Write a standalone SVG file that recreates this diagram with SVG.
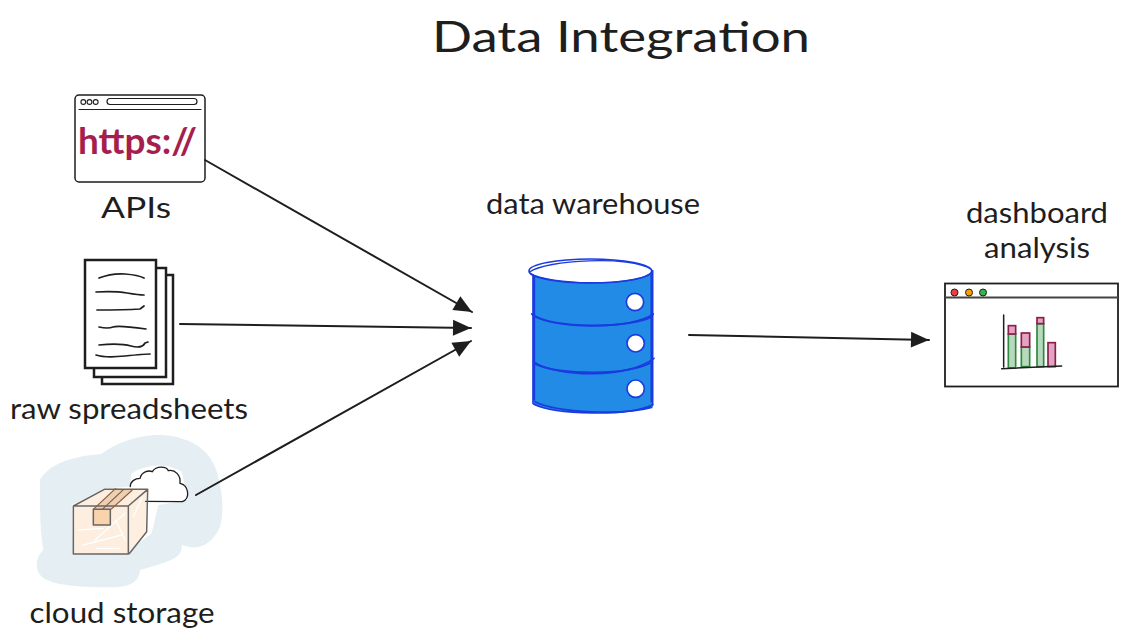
<svg xmlns="http://www.w3.org/2000/svg" width="1128" height="643" viewBox="0 0 1128 643">
<style>
text{font-family:"Lato","Open Sans",sans-serif;fill:#1e1e1e}
.lbl{font-size:28px}
.conn{fill:none;stroke:#1e1e1e;stroke-width:2;stroke-linecap:round}
.k{fill:none;stroke:#1e1e1e;stroke-linecap:round;stroke-linejoin:round}
</style>
<defs>
<marker id="arrow" markerUnits="userSpaceOnUse" markerWidth="22" markerHeight="20" refX="19" refY="10" orient="auto">
<path d="M1 2L19 10L1 18Z" fill="#1e1e1e"/>
</marker>
</defs>
<rect width="1128" height="643" fill="#fff"/>
<text x="621" y="52" font-size="42" text-anchor="middle" textLength="378" lengthAdjust="spacingAndGlyphs">Data Integration</text>
<g id="apis">
<rect x="75" y="95" width="130" height="87" rx="4" fill="#fff" stroke="#1e1e1e" stroke-width="1.5"/>
<path class="k" stroke-width="1.200" d="M79 109.500H201"/>
<circle class="k" cx="83.300" cy="102" r="2.400" stroke-width="1.100"/>
<circle class="k" cx="89.500" cy="102" r="2.400" stroke-width="1.100"/>
<circle class="k" cx="95.700" cy="102" r="2.400" stroke-width="1.100"/>
<rect class="k" x="107" y="98.500" width="90" height="6" rx="3" stroke-width="1.200"/>
<text x="78" y="154" font-size="36" font-weight="700" textLength="119" lengthAdjust="spacingAndGlyphs" style="fill:#a61e4d">https://</text>
<text class="lbl" x="136" y="218" text-anchor="middle" textLength="70" lengthAdjust="spacingAndGlyphs">APIs</text>
</g>
<g id="raw-spreadsheets">
<rect x="102" y="275" width="71" height="109" fill="#fff" stroke="#1e1e1e" stroke-width="2.500"/>
<rect x="94" y="268" width="72" height="109" fill="#fff" stroke="#1e1e1e" stroke-width="2.500"/>
<rect x="85" y="260" width="71" height="108" fill="#fff" stroke="#1e1e1e" stroke-width="2.500"/>
<g class="k" stroke-width="1.700">
<path d="M99 278Q112 273 125 274T144 278"/>
<path d="M96 292Q115 291 127 293T144 295"/>
<path d="M97 310Q125 310 140 309L144 306"/>
<path d="M99 327Q108 329 113 327T146 329"/>
<path d="M99 345Q120 343 131 346T145 343L148 342"/>
<path d="M96 355Q105 358 125 356T150 354"/>
</g>
<text class="lbl" x="129" y="419" text-anchor="middle" textLength="238" lengthAdjust="spacingAndGlyphs">raw spreadsheets</text>
</g>
<g id="cloud-storage">
<g transform="translate(25 430) scale(.33333)">
<path fill="#e5eff3" d="M45 150C70 105 130 80 230 72C270 40 340 15 400 15C470 15 540 45 565 100C590 150 600 240 585 290C565 340 520 360 490 350L470 345C475 385 430 395 345 420C345 450 320 470 270 472C200 472 90 472 50 440C25 415 35 380 55 360C45 300 45 240 45 200Z"/>
<path fill="#fff" d="M320 130C360 105 420 95 470 125L490 210L400 225L380 310L300 370L145 375L140 225L240 175L315 170Z"/>
<path fill="#fdeedf" d="M145 230L310 228L312 370L145 372ZM145 228L240 178L365 178L310 228ZM310 228L365 178L362 305L312 370Z"/>
<g fill="none" stroke="#fff" stroke-width="4" stroke-linecap="round">
<path d="M175 345L290 315M210 330L300 250M160 300L235 295M272 270L300 330M215 355L285 355M325 260L350 205"/>
</g>
<path fill="#f9d3ac" d="M205 238H256V285H205Z"/>
<path fill="#ecd0b4" d="M205 238L272 175L322 180L258 238Z"/>
<path fill="#fff" d="M320 172C315 155 330 145 345 145C350 125 370 120 382 125C395 105 425 110 430 122C450 118 468 135 465 160C490 165 498 205 472 215L362 215L368 178Z" stroke="none"/>
<path fill="none" stroke="#1e1e1e" stroke-width="4" stroke-linecap="round" d="M316 170C315 155 330 145 345 145C350 125 370 120 382 125C395 105 425 110 430 122C450 118 468 135 465 160C490 165 498 205 472 215L362 214"/>
<g fill="none" stroke="#666" stroke-width="4.500" stroke-linejoin="round">
<path d="M145 228H310V372H145ZM145 228L238 178H368L310 228M368 178L365 305L312 372"/>
<path d="M205 238H256V285H205Z"/>
<path stroke="#8a5a3c" stroke-width="3.500" d="M205 238L272 175M258 238L322 180M232 238L296 178"/>
</g>
</g>
<text class="lbl" x="122" y="623" text-anchor="middle" textLength="185" lengthAdjust="spacingAndGlyphs">cloud storage</text>
</g>
<g id="data-warehouse">
<text class="lbl" x="593" y="214" text-anchor="middle" textLength="214" lengthAdjust="spacingAndGlyphs">data warehouse</text>
<g transform="translate(515 250) scale(.33333)">
<path fill="#228be6" d="M54 70H414V470C340 495 130 495 56 465Z"/>
<g fill="none" stroke="#1a3be0" stroke-width="5" stroke-linecap="round">
<path d="M54 70V460M58 80V450M413 62V465M409 70V455"/>
<path d="M50 192C110 240 350 240 415 192"/>
<path d="M54 196C120 235 340 236 412 200"/>
<path d="M55 335C130 385 340 385 417 325"/>
<path d="M60 342C130 375 340 378 412 336"/>
<path d="M56 462C120 495 340 500 413 464"/>
<path d="M60 455C130 490 330 495 410 472"/>
</g>
<ellipse cx="226" cy="63" rx="184" ry="36" fill="#fff" stroke="#1a3be0" stroke-width="5"/>
<path fill="none" stroke="#1a3be0" stroke-width="4" d="M44 66C90 30 350 15 408 58M46 70C100 105 350 110 404 72"/>
<g fill="#fff" stroke="#1a3be0" stroke-width="5">
<circle cx="360" cy="156" r="26"/>
<circle cx="362" cy="280" r="26"/>
<circle cx="362" cy="416" r="26"/>
</g>
</g>
</g>
<g id="dashboard-analysis">
<text class="lbl" x="1037" y="223" text-anchor="middle" textLength="142" lengthAdjust="spacingAndGlyphs">dashboard</text>
<text class="lbl" x="1037" y="258" text-anchor="middle" textLength="106" lengthAdjust="spacingAndGlyphs">analysis</text>
<rect x="945" y="283.500" width="173" height="103" fill="#fff" stroke="#1e1e1e" stroke-width="1.800"/>
<path stroke="#444" stroke-width="2.200" d="M945 297.500H1118"/>
<g stroke="#1e1e1e" stroke-width="1">
<circle cx="954.500" cy="292.500" r="3.500" fill="#f03e3e"/>
<circle cx="969" cy="292.500" r="3.500" fill="#f59f00"/>
<circle cx="983" cy="292.500" r="3.500" fill="#37b24d"/>
</g>
<g transform="translate(935 275) scale(.33333)">
<g stroke-width="5">
<rect x="220" y="177" width="22" height="102" fill="#b9d9bf" stroke="#2b8a3e"/>
<rect x="259" y="216" width="25" height="59" fill="#b9d9bf" stroke="#2b8a3e"/>
<rect x="306" y="146" width="20" height="129" fill="#b9d9bf" stroke="#2b8a3e"/>
<rect x="220" y="152" width="22" height="25" fill="#e2a5c0" stroke="#8c1d4b"/>
<rect x="259" y="174" width="25" height="42" fill="#e2a5c0" stroke="#8c1d4b"/>
<rect x="306" y="128" width="20" height="18" fill="#e2a5c0" stroke="#8c1d4b"/>
<rect x="339" y="203" width="22" height="72" fill="#e2a5c0" stroke="#8c1d4b"/>
</g>
<path fill="none" stroke="#1e1e1e" stroke-width="4.500" stroke-linecap="round" d="M206 120V276M200 281L380 273"/>
</g>
</g>
<g id="connectors">
<path class="conn" marker-end="url(#arrow)" d="M205 160L472 312"/>
<path class="conn" marker-end="url(#arrow)" d="M180 324L471 328"/>
<path class="conn" marker-end="url(#arrow)" d="M196 495L471 341"/>
<path class="conn" marker-end="url(#arrow)" d="M689 335L929 340"/>
</g>
</svg>
